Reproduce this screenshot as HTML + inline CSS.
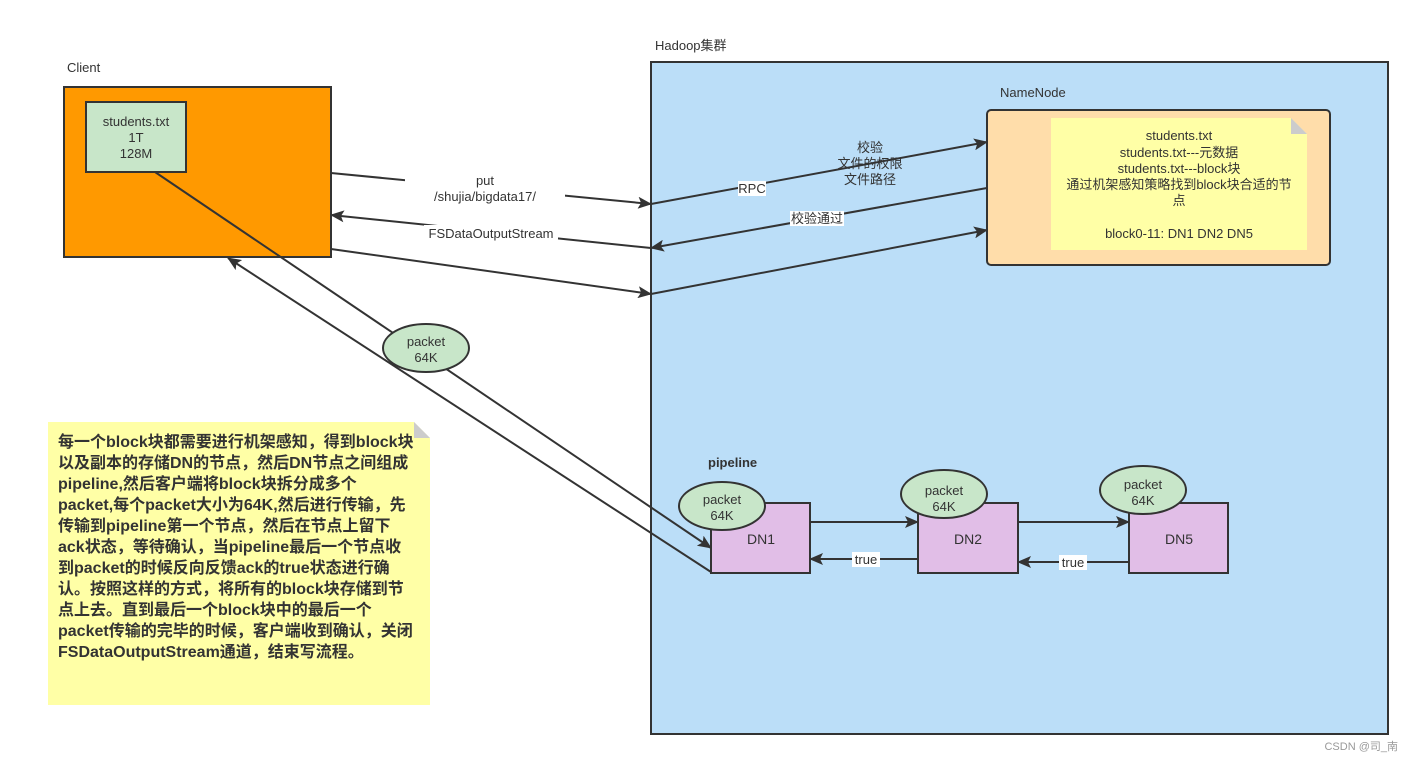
<!DOCTYPE html>
<html><head><meta charset="utf-8"><style>
body{margin:0;background:#fff;}
svg{display:block;font-family:"Liberation Sans","Noto Sans CJK SC",sans-serif;}
text{fill:#333;font-size:13px;}
text.n{font-size:16px;font-weight:bold;}
text.b{font-weight:bold;}
text.dn{font-size:14px;}
text.w{font-size:11px;fill:#999;}
</style></head><body>
<svg width="1413" height="760" viewBox="0 0 1413 760" xmlns="http://www.w3.org/2000/svg">
<defs>
<marker id="b" markerWidth="14" markerHeight="12" refX="13" refY="6" orient="auto" markerUnits="userSpaceOnUse">
<path d="M0,0 L14,6 L0,12 L3,6 Z" fill="#333"/></marker>
</defs>
<text x="67" y="72">Client</text>
<rect x="64" y="87" width="267" height="170" fill="#FF9900" stroke="#333" stroke-width="2"/>
<rect x="86" y="102" width="100" height="70" fill="#C8E6C9" stroke="#333" stroke-width="2"/>
<text x="136" y="126" text-anchor="middle">students.txt</text>
<text x="136" y="142" text-anchor="middle">1T</text>
<text x="136" y="158" text-anchor="middle">128M</text>

<text x="655" y="50">Hadoop集群</text>
<rect x="651" y="62" width="737" height="672" fill="#BBDEF8" stroke="#333" stroke-width="2"/>
<text x="1000" y="97">NameNode</text>
<rect x="987" y="110" width="343" height="155" rx="4" fill="#FFDDAA" stroke="#333" stroke-width="2"/>
<path d="M1051,118 H1291 L1307,134 V250 H1051 Z" fill="#FFFFA6"/>
<path d="M1291,118 L1307,134 H1291 Z" fill="#ccc"/>
<g text-anchor="middle">
<text x="1179" y="140">students.txt</text>
<text x="1179" y="157">students.txt---元数据</text>
<text x="1179" y="173">students.txt---block块</text>
<text x="1179" y="189">通过机架感知策略找到block块合适的节</text>
<text x="1179" y="205">点</text>
<text x="1179" y="238">block0-11:  DN1 DN2 DN5</text>
</g>

<g stroke="#333" stroke-width="2" fill="none">
<line x1="331" y1="173" x2="651" y2="204" marker-end="url(#b)"/>
<line x1="651" y1="204" x2="987" y2="142" marker-end="url(#b)"/>
<line x1="987" y1="188" x2="651" y2="248" marker-end="url(#b)"/>
<line x1="651" y1="248" x2="331" y2="215" marker-end="url(#b)"/>
<line x1="331" y1="249" x2="651" y2="294" marker-end="url(#b)"/>
<line x1="651" y1="294" x2="987" y2="230" marker-end="url(#b)"/>
<line x1="155" y1="172" x2="711" y2="548" marker-end="url(#b)"/>
<line x1="711" y1="572" x2="228" y2="258" marker-end="url(#b)"/>
<line x1="810" y1="522" x2="918" y2="522" marker-end="url(#b)"/>
<line x1="1018" y1="522" x2="1129" y2="522" marker-end="url(#b)"/>
<line x1="918" y1="559" x2="810" y2="559" marker-end="url(#b)"/>
<line x1="1129" y1="562" x2="1018" y2="562" marker-end="url(#b)"/>
</g>
<rect x="405" y="172" width="160" height="34" fill="#fff"/>
<text x="485" y="185" text-anchor="middle">put</text>
<text x="485" y="201" text-anchor="middle">/shujia/bigdata17/</text>
<rect x="424" y="225" width="134" height="16" fill="#fff"/>
<text x="491" y="238" text-anchor="middle">FSDataOutputStream</text>
<rect x="738" y="181" width="28" height="15" fill="#fff"/>
<text x="752" y="193" text-anchor="middle">RPC</text>
<text x="870" y="152" text-anchor="middle">校验</text>
<text x="870" y="168" text-anchor="middle">文件的权限</text>
<text x="870" y="184" text-anchor="middle">文件路径</text>
<rect x="790" y="211" width="54" height="15" fill="#fff"/>
<text x="817" y="223" text-anchor="middle">校验通过</text>

<text x="708" y="467" class="b">pipeline</text>
<rect x="711" y="503" width="99" height="70" fill="#E1BEE7" stroke="#333" stroke-width="2"/>
<rect x="918" y="503" width="100" height="70" fill="#E1BEE7" stroke="#333" stroke-width="2"/>
<rect x="1129" y="503" width="99" height="70" fill="#E1BEE7" stroke="#333" stroke-width="2"/>
<text x="761" y="544" text-anchor="middle" class="dn">DN1</text>
<text x="968" y="544" text-anchor="middle" class="dn">DN2</text>
<text x="1179" y="544" text-anchor="middle" class="dn">DN5</text>
<rect x="852" y="552" width="28" height="15" fill="#fff"/>
<text x="866" y="564" text-anchor="middle">true</text>
<rect x="1059" y="555" width="28" height="15" fill="#fff"/>
<text x="1073" y="567" text-anchor="middle">true</text>

<g fill="#C8E6C9" stroke="#333" stroke-width="2">
<ellipse cx="426" cy="348" rx="43" ry="24"/>
<ellipse cx="722" cy="506" rx="43" ry="24"/>
<ellipse cx="944" cy="494" rx="43" ry="24"/>
<ellipse cx="1143" cy="490" rx="43" ry="24"/>
</g>
<g text-anchor="middle">
<text x="426" y="346">packet</text><text x="426" y="362">64K</text>
<text x="722" y="504">packet</text><text x="722" y="520">64K</text>
<text x="944" y="495">packet</text><text x="944" y="511">64K</text>
<text x="1143" y="489">packet</text><text x="1143" y="505">64K</text>
</g>

<path d="M48,422 H414 L430,438 V705 H48 Z" fill="#FFFFA6"/>
<path d="M414,422 L430,438 H414 Z" fill="#ccc"/>
<text class="n" x="58" y="447">每一个block块都需要进行机架感知，得到block块</text>
<text class="n" x="58" y="468">以及副本的存储DN的节点，然后DN节点之间组成</text>
<text class="n" x="58" y="489">pipeline,然后客户端将block块拆分成多个</text>
<text class="n" x="58" y="510">packet,每个packet大小为64K,然后进行传输，先</text>
<text class="n" x="58" y="531">传输到pipeline第一个节点，然后在节点上留下</text>
<text class="n" x="58" y="552">ack状态，等待确认，当pipeline最后一个节点收</text>
<text class="n" x="58" y="573">到packet的时候反向反馈ack的true状态进行确</text>
<text class="n" x="58" y="594">认。按照这样的方式，将所有的block块存储到节</text>
<text class="n" x="58" y="615">点上去。直到最后一个block块中的最后一个</text>
<text class="n" x="58" y="636">packet传输的完毕的时候，客户端收到确认，关闭</text>
<text class="n" x="58" y="657">FSDataOutputStream通道，结束写流程。</text>
<text x="1398" y="750" text-anchor="end" class="w">CSDN @司_南</text>
</svg>
</body></html>
